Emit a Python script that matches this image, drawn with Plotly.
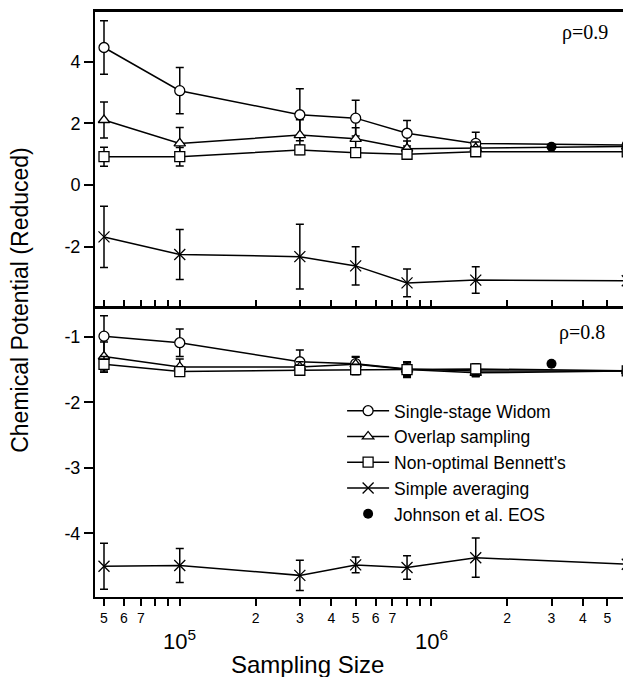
import plotly.graph_objects as go

# ---------------- data ----------------
sampling_size = [5e4, 1e5, 3e5, 5e5, 8e5, 1.5e6, 6e6]

# rho = 0.9 (top panel)
widom_09 = [4.46, 3.06, 2.28, 2.17, 1.68, 1.35, 1.30]
widom_09_err = [0.87, 0.75, 0.84, 0.58, 0.41, 0.36, 0.25]
overlap_09 = [2.11, 1.35, 1.62, 1.50, 1.18, 1.20, 1.25]
overlap_09_err = [0.58, 0.52, 0.50, 0.36, 0.25, 0.20, 0.20]
bennett_09 = [0.92, 0.92, 1.14, 1.05, 1.00, 1.08, 1.08]
bennett_09_err = [0.31, 0.30, 0.15, 0.10, 0.10, 0.10, 0.10]
simple_09 = [-1.68, -2.25, -2.32, -2.62, -3.17, -3.08, -3.10]
simple_09_err = [0.99, 0.81, 1.05, 0.62, 0.45, 0.43, 0.29]
johnson_x = [3e6]
johnson_09 = [1.24]

# rho = 0.8 (bottom panel)
widom_08 = [-0.99, -1.09, -1.38, -1.41, -1.49, -1.52, -1.52]
widom_08_err = [0.31, 0.21, 0.18, 0.10, 0.10, 0.08, 0.06]
overlap_08 = [-1.30, -1.46, -1.46, -1.42, -1.50, -1.55, -1.52]
overlap_08_err = [0.22, 0.12, 0.08, 0.12, 0.10, 0.06, 0.05]
bennett_08 = [-1.42, -1.53, -1.51, -1.50, -1.50, -1.49, -1.52]
bennett_08_err = [0.12, 0.06, 0.06, 0.08, 0.12, 0.08, 0.04]
simple_08 = [-4.50, -4.49, -4.64, -4.48, -4.52, -4.37, -4.47]
simple_08_err = [0.35, 0.26, 0.23, 0.12, 0.18, 0.30, 0.18]
johnson_08 = [-1.41]

# axis ticks
x_tickvals = [5e4, 6e4, 7e4, 8e4, 9e4, 1e5, 2e5, 3e5, 4e5, 5e5, 6e5, 7e5, 8e5, 9e5,
              1e6, 2e6, 3e6, 4e6, 5e6, 6e6]
x_ticktext = ["5", "6", "7", " ", " ", " ", "2", "3", "4", "5", "6", "7", " ", " ",
              " ", "2", "3", "4", "5", "6"]
decade_labels = {5: "10<sup>5</sup>", 6: "10<sup>6</sup>"}
y_top_ticks = [-2, 0, 2, 4]
y_top_text = ["-2", "0", "2", "4"]
y_bot_ticks = [-4, -3, -2, -1]
y_bot_text = ["-4", "-3", "-2", "-1"]

series_names = ["Single-stage Widom", "Overlap sampling", "Non-optimal Bennett's",
                "Simple averaging", "Johnson et al. EOS"]

FONT = "Liberation Sans, Arial, Helvetica, sans-serif"
SERIF = "Liberation Serif, Times New Roman, serif"

fig = go.Figure()

styles = [
    dict(symbol="circle", color="white", size=10),
    dict(symbol="triangle-up", color="white", size=10),
    dict(symbol="square", color="white", size=10),
    dict(symbol="x-thin", color="black", size=11),
]

top_sets = [(widom_09, widom_09_err), (overlap_09, overlap_09_err),
            (bennett_09, bennett_09_err), (simple_09, simple_09_err)]
bot_sets = [(widom_08, widom_08_err), (overlap_08, overlap_08_err),
            (bennett_08, bennett_08_err), (simple_08, simple_08_err)]


def add_series(vals, errs, i, xa, ya, show):
    st = styles[i]
    fig.add_trace(go.Scatter(
        x=sampling_size, y=vals, mode="lines+markers", name=series_names[i],
        xaxis=xa, yaxis=ya, showlegend=show, legendrank=i + 1,
        line=dict(color="black", width=1.5),
        marker=dict(symbol=st["symbol"], size=st["size"], color=st["color"],
                    line=dict(color="black", width=1.3)),
        error_y=dict(type="data", array=errs, visible=True, color="black",
                     thickness=1.5, width=4),
    ))


for i, (v, e) in enumerate(bot_sets):
    add_series(v, e, i, "x", "y", True)
for i, (v, e) in enumerate(top_sets):
    add_series(v, e, i, "x2", "y2", False)

fig.add_trace(go.Scatter(x=johnson_x, y=johnson_08, mode="markers", name=series_names[4],
                         xaxis="x", yaxis="y", legendrank=5,
                         marker=dict(symbol="circle", size=10, color="black")))
fig.add_trace(go.Scatter(x=johnson_x, y=johnson_09, mode="markers", name=series_names[4],
                         xaxis="x2", yaxis="y2", showlegend=False,
                         marker=dict(symbol="circle", size=10, color="black")))

XR = [4.6632, 6.793]
SPLIT = 0.4974

# page body has an 8px margin, so the figure is sized to the visible area
fig.update_layout(
    width=623, height=669,
    margin=dict(l=87, r=0, t=4, b=80, autoexpand=False),
    paper_bgcolor="white", plot_bgcolor="white",
    font=dict(family=FONT, color="black"),
    xaxis=dict(type="log", range=XR, anchor="y", tickvals=x_tickvals, ticktext=x_ticktext,
               ticks="outside", ticklen=7, tickwidth=1.5, tickcolor="black",
               showline=True, linewidth=2, linecolor="black", tickangle=0,
               ticklabeloverflow="allow",
               tickfont=dict(size=14, family=FONT), showgrid=False, zeroline=False),
    yaxis=dict(domain=[0, SPLIT], range=[-4.97, -0.53], anchor="x",
               tickvals=y_bot_ticks, ticktext=y_bot_text, ticks="outside", ticklen=9,
               tickwidth=1.5, tickcolor="black", showline=True, linewidth=2,
               linecolor="black", tickfont=dict(size=18, family=FONT),
               showgrid=False, zeroline=False),
    xaxis2=dict(type="log", range=XR, anchor="y2", matches="x", tickvals=x_tickvals,
                ticks="inside", ticklen=6, tickwidth=1.5, tickcolor="black",
                showticklabels=False, showline=True, linewidth=3, linecolor="black",
                mirror=True, showgrid=False, zeroline=False),
    yaxis2=dict(domain=[SPLIT, 1], range=[-3.92, 5.61], anchor="x2",
                tickvals=y_top_ticks, ticktext=y_top_text, ticks="outside", ticklen=9,
                tickwidth=1.5, tickcolor="black", showline=True, linewidth=2,
                linecolor="black", tickfont=dict(size=18, family=FONT),
                showgrid=False, zeroline=False),
    legend=dict(x=0.461, y=0.349, xanchor="left", yanchor="top",
                bgcolor="rgba(0,0,0,0)", font=dict(size=17.5, family=FONT),
                tracegroupgap=0, itemwidth=42),
    showlegend=True,
)

annotations = []
for p, txt in decade_labels.items():
    annotations.append(dict(x=p, y=0, xref="x", yref="paper", yshift=-43, text=txt,
                            showarrow=False, xanchor="center", yanchor="middle",
                            font=dict(size=22, family=FONT)))
annotations.append(dict(x=0.396, y=0, xref="paper", yref="paper", yshift=-67,
                        text="Sampling Size", showarrow=False, xanchor="center",
                        yanchor="middle", font=dict(size=24, family=FONT)))
annotations.append(dict(x=-0.14, y=0.508, xref="paper", yref="paper",
                        text="Chemical Potential (Reduced)", textangle=-90,
                        showarrow=False, xanchor="center", yanchor="middle",
                        font=dict(size=23, family=FONT)))
annotations.append(dict(x=6.61, y=4.93, xref="x2", yref="y2", text="ρ=0.9",
                        showarrow=False, xanchor="center", yanchor="middle",
                        font=dict(size=20, family=SERIF)))
annotations.append(dict(x=6.60, y=-0.94, xref="x", yref="y", text="ρ=0.8",
                        showarrow=False, xanchor="center", yanchor="middle",
                        font=dict(size=20, family=SERIF)))
fig.update_layout(annotations=annotations)

fig.write_html("out.html")
